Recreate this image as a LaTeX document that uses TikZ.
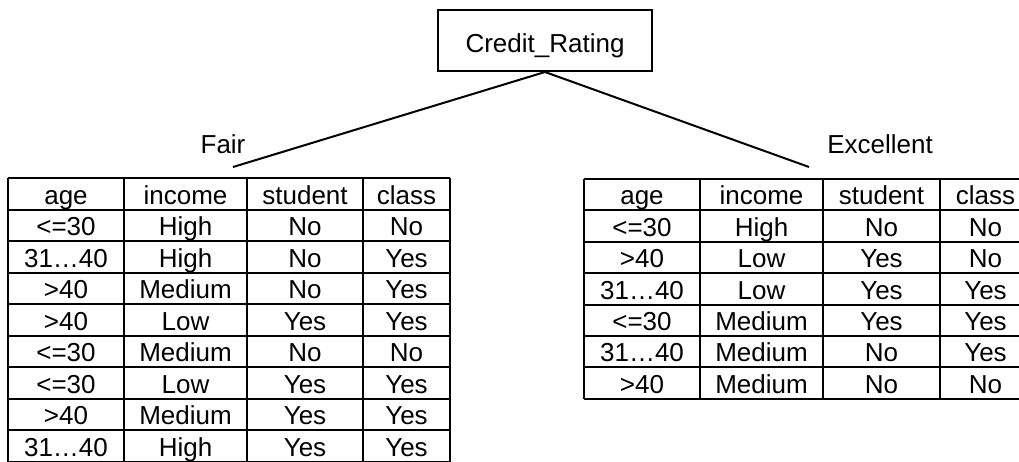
\documentclass[tikz,border=0pt]{standalone}
\usepackage{fontspec}
\setmainfont{Liberation Sans}
\begin{document}
\begin{tikzpicture}[x=1pt,y=-1pt,line width=2pt,
  txt/.style={inner sep=0pt,font=\fontsize{26}{30}\selectfont},
  cell/.style={txt,anchor=base},
  rootbox/.style={draw,txt,minimum width=214pt,minimum height=61pt,
    text height=24pt,text depth=0pt}]
\useasboundingbox (0,0) rectangle (1019,461);

% root of the tree
\node[rootbox] (cr) at (545,40.5) {Credit\_Rating};

% branch labels and branch ends
\node[cell] (fair) at (223,153) {Fair};
\node[cell] (excellent) at (880,153) {Excellent};
\coordinate (fairend) at (233,167);
\coordinate (excend) at (809,167);
\draw (cr.south) -- (fairend);
\draw (cr.south) -- (excend);

% left table grid (Fair)
\foreach \k in {0,...,9}
  \draw (8,178+31.5*\k) -- (450,178+31.5*\k);
\foreach \xx in {8,124,247,363,450}
  \draw (\xx,178) -- (\xx,461.5);

% left table contents
\foreach \a/\b/\c/\d [count=\r from 0] in {
  age/income/student/class,
  <=30/High/No/No,
  31…40/High/No/Yes,
  >40/Medium/No/Yes,
  >40/Low/Yes/Yes,
  <=30/Medium/No/No,
  <=30/Low/Yes/Yes,
  >40/Medium/Yes/Yes,
  31…40/High/Yes/Yes}{
  \pgfmathsetmacro{\yb}{178+31.5*(\r+1)-5.5}
  \node[cell] (fa-\r-1) at (66,\yb) {\a};
  \node[cell] (fa-\r-2) at (185.5,\yb) {\b};
  \node[cell] (fa-\r-3) at (305,\yb) {\c};
  \node[cell] (fa-\r-4) at (406.5,\yb) {\d};
}

% right table grid (Excellent)
\foreach \k in {0,...,7}
  \draw (584,179+31.4*\k) -- (1027,179+31.4*\k);
\foreach \xx in {584,700,823,940,1027}
  \draw (\xx,179) -- (\xx,398.8);

% right table contents
\foreach \a/\b/\c/\d [count=\r from 0] in {
  age/income/student/class,
  <=30/High/No/No,
  >40/Low/Yes/No,
  31…40/Low/Yes/Yes,
  <=30/Medium/Yes/Yes,
  31…40/Medium/No/Yes,
  >40/Medium/No/No}{
  \pgfmathsetmacro{\yb}{179+31.4*(\r+1)-5.5}
  \node[cell] (ex-\r-1) at (642,\yb) {\a};
  \node[cell] (ex-\r-2) at (761.5,\yb) {\b};
  \node[cell] (ex-\r-3) at (881.5,\yb) {\c};
  \node[cell] (ex-\r-4) at (985.5,\yb) {\d};
}
\end{tikzpicture}
\end{document}
